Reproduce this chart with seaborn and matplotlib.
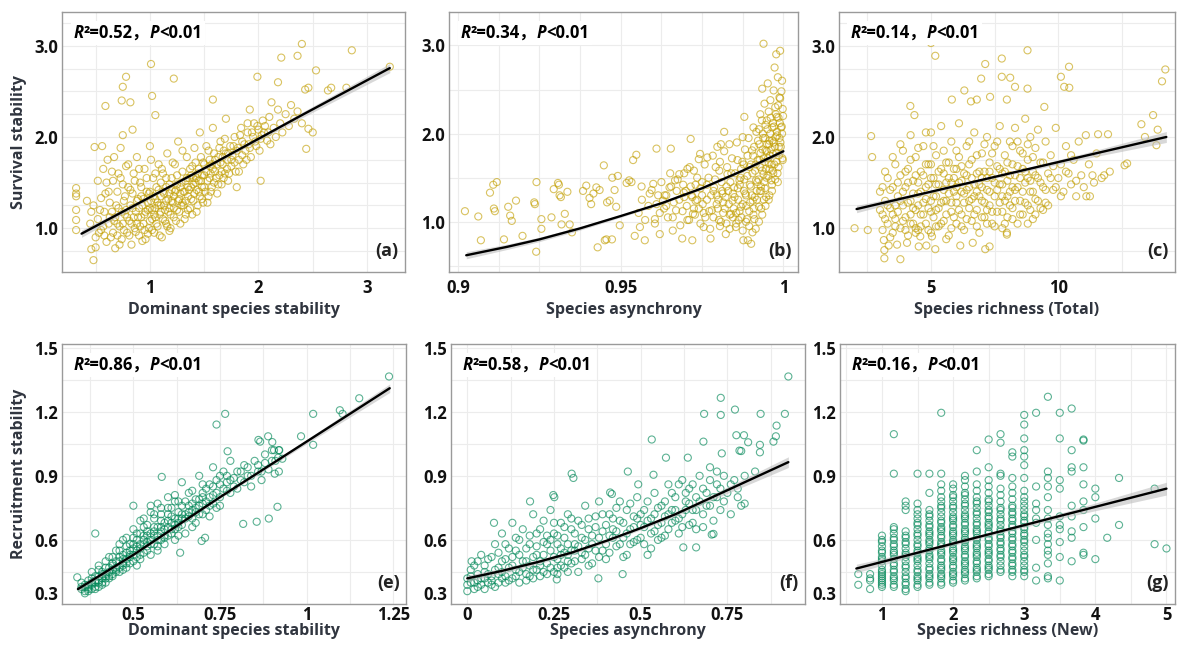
import numpy as np
import pandas as pd
import matplotlib
matplotlib.use("Agg")
import matplotlib.pyplot as plt
import seaborn as sns
from matplotlib.offsetbox import TextArea, HPacker, AnchoredOffsetbox
from matplotlib.ticker import MultipleLocator

sns.set_theme(style="white")
plt.rcParams['font.family'] = ['Open Sans', 'Noto Sans CJK SC', 'DejaVu Sans']
plt.rcParams['font.weight'] = 'bold'

# ---------------- data ----------------

# (a) survival stability vs dominant species stability
pts_a = [
    (3.21, 2.77), (2.86, 2.95), (2.40, 3.02), (2.36, 2.89), (2.21, 2.87), (2.53, 2.73), (1.99, 2.66),
    (2.18, 2.60), (2.43, 2.52), (2.46, 2.54), (2.64, 2.51), (2.67, 2.54), (2.81, 2.54), (1.01, 2.80),
    (1.22, 2.64), (0.78, 2.66), (0.75, 2.55), (0.74, 2.40), (0.82, 2.38), (1.02, 2.45), (0.59, 2.34),
    (1.05, 2.24), (1.58, 2.41), (2.44, 1.87), (2.50, 2.05), (2.46, 2.09), (2.02, 1.52), (1.18, 0.97),
    (0.48, 0.65), (0.50, 0.79), (0.46, 0.77), (0.32, 1.44), (0.32, 1.38), (0.32, 1.35), (0.32, 1.20),
    (0.32, 1.09), (0.32, 0.98), (0.49, 1.89), (0.56, 1.90), (0.75, 2.02), (0.84, 2.08),
    (0.45, 1.05), (0.48, 1.25), (0.52, 1.10), (0.55, 0.98), (0.55, 1.33), (0.58, 1.18), (0.60, 1.50),
    (0.60, 0.85), (0.62, 1.05), (0.63, 1.28), (0.65, 1.62), (0.66, 0.95), (0.68, 1.12), (0.68, 0.78),
    (0.70, 1.40), (0.71, 1.22), (0.72, 1.02), (0.73, 1.55), (0.74, 0.88), (0.76, 1.30), (0.77, 1.15),
    (0.78, 1.68), (0.79, 0.95), (0.80, 1.45), (0.81, 1.08), (0.82, 1.25), (0.83, 0.82), (0.84, 1.38),
    (0.85, 1.60), (0.86, 1.00), (0.87, 1.18), (0.88, 1.78), (0.89, 1.32), (0.90, 0.92), (0.91, 1.50),
    (0.92, 1.12), (0.93, 1.25), (0.94, 1.05), (0.95, 1.65), (0.96, 0.88), (0.97, 1.40), (0.98, 1.20),
    (0.99, 1.00), (1.00, 1.90), (1.01, 1.30), (1.02, 1.10), (1.03, 1.55), (1.04, 0.95), (1.05, 1.22),
    (1.06, 1.45), (1.07, 1.02), (1.08, 1.70), (1.09, 1.15), (1.10, 1.35), (1.11, 0.90), (1.12, 1.60),
    (1.13, 1.25), (1.14, 1.08), (1.15, 1.45), (1.16, 1.82), (1.17, 1.18), (1.18, 1.38), (1.19, 1.00),
    (1.20, 1.55), (1.21, 1.28), (1.22, 1.12), (1.23, 1.70), (1.24, 1.42), (1.25, 1.20), (1.26, 1.95),
    (1.27, 1.32), (1.28, 1.05), (1.29, 1.50), (1.30, 1.62), (1.31, 1.25), (1.32, 1.40), (1.33, 1.15),
    (1.34, 1.78), (1.35, 1.35), (1.36, 1.55), (1.37, 1.22), (1.38, 1.45), (1.39, 1.68), (1.40, 1.30),
    (1.41, 1.88), (1.42, 1.50), (1.43, 1.18), (1.44, 1.60), (1.45, 1.40), (1.46, 2.05), (1.47, 1.52),
    (1.48, 1.32), (1.49, 1.72), (1.50, 1.45), (1.52, 1.62), (1.53, 1.28), (1.54, 1.85), (1.55, 1.55),
    (1.56, 1.40), (1.57, 1.70), (1.58, 2.10), (1.59, 1.50), (1.60, 1.62), (1.62, 1.38), (1.63, 1.78),
    (1.64, 1.58), (1.65, 1.95), (1.66, 1.48), (1.67, 1.70), (1.68, 1.85), (1.69, 1.60), (1.70, 2.20),
    (1.71, 1.75), (1.72, 1.52), (1.74, 1.90), (1.75, 1.68), (1.76, 1.80), (1.78, 2.00), (1.79, 1.62),
    (1.80, 1.45), (1.81, 1.88), (1.82, 1.75), (1.84, 2.10), (1.85, 1.95), (1.86, 1.70), (1.88, 1.85),
    (1.90, 2.05), (1.91, 1.92), (1.92, 2.30), (1.93, 1.78), (1.95, 2.00), (1.96, 2.15), (1.98, 1.90),
    (2.00, 2.08), (2.02, 1.98), (2.04, 2.18), (2.05, 2.05), (2.08, 1.96), (2.10, 2.22), (2.12, 2.38),
    (2.14, 2.10), (2.16, 2.00), (2.18, 2.30), (2.20, 2.15), (2.22, 2.05), (2.25, 2.25), (2.28, 2.12),
    (2.30, 2.35), (2.33, 2.20), (2.36, 2.28), (2.40, 2.15),
    (0.85, 1.12), (0.88, 1.05), (0.92, 1.35), (0.95, 1.15), (0.98, 1.28), (1.00, 1.08), (1.02, 1.20),
    (1.05, 1.32), (1.08, 1.25), (1.10, 1.18), (1.12, 1.40), (1.15, 1.30), (1.18, 1.22), (1.20, 1.42),
    (1.22, 1.35), (1.25, 1.48), (1.28, 1.38), (1.30, 1.28), (1.33, 1.52), (1.35, 1.45), (1.38, 1.58),
    (1.40, 1.48), (1.43, 1.55), (1.45, 1.65), (1.48, 1.58), (1.50, 1.70), (1.55, 1.68), (1.60, 1.75),
    (1.65, 1.72), (1.70, 1.82), (0.75, 1.05), (0.78, 1.20), (0.70, 0.92), (0.65, 1.18), (0.90, 1.22),
    (1.00, 1.40), (1.10, 1.50), (0.95, 0.98), (1.05, 1.12), (1.15, 1.05),
    (0.62, 1.40), (0.64, 0.90), (0.66, 1.52), (0.67, 1.08), (0.69, 1.25), (0.71, 1.60), (0.72, 0.82),
    (0.74, 1.18), (0.75, 1.48), (0.76, 0.98), (0.77, 1.35), (0.79, 1.12), (0.80, 1.70), (0.81, 0.92),
    (0.82, 1.42), (0.83, 1.05), (0.84, 1.22), (0.86, 1.52), (0.87, 0.96), (0.88, 1.30), (0.89, 1.12),
    (0.90, 1.65), (0.91, 1.02), (0.92, 1.45), (0.93, 0.86), (0.94, 1.32), (0.96, 1.18), (0.97, 1.55),
    (0.98, 0.94), (0.99, 1.38), (1.00, 1.22), (1.01, 1.75), (1.02, 0.98), (1.03, 1.35), (1.04, 1.15),
    (1.05, 1.60), (1.06, 1.05), (1.07, 1.28), (1.08, 1.42), (1.09, 0.92), (1.10, 1.25), (1.11, 1.65),
    (1.12, 1.10), (1.13, 1.38), (1.14, 1.20), (1.15, 1.55), (1.16, 1.02), (1.17, 1.32), (1.18, 1.48),
    (1.19, 1.15), (1.20, 1.30), (1.21, 1.72), (1.22, 1.22), (1.23, 1.40), (1.24, 1.08), (1.25, 1.58),
    (1.26, 1.30), (1.27, 1.18), (1.28, 1.45), (1.29, 1.25), (1.30, 1.85), (1.31, 1.40), (1.32, 1.10),
    (1.33, 1.30), (1.34, 1.55), (1.35, 1.20), (1.36, 1.42), (1.37, 1.65), (1.38, 1.32), (1.39, 1.15),
    (1.40, 1.55), (1.41, 1.38), (1.42, 1.72), (1.43, 1.42), (1.44, 1.25), (1.45, 1.52), (1.46, 1.35),
    (1.47, 1.78), (1.48, 1.45), (1.49, 1.28), (1.50, 1.58), (1.51, 1.40), (1.52, 1.90), (1.53, 1.52),
    (1.54, 1.35), (1.55, 1.75), (1.56, 1.60), (1.57, 1.45), (1.58, 1.65), (1.59, 1.82), (1.61, 1.55),
    (1.62, 1.70), (1.63, 1.48), (1.64, 1.88), (1.66, 1.62), (1.67, 1.78), (1.68, 1.55), (1.69, 1.98),
    (1.71, 1.65), (1.72, 1.82), (1.73, 1.60), (1.75, 1.75), (1.77, 1.90), (1.78, 1.72), (1.80, 1.85),
    (1.82, 1.62), (1.83, 2.02), (1.85, 1.80), (1.87, 1.92), (1.89, 1.75), (1.90, 2.15), (1.92, 1.88),
    (1.94, 2.05), (1.97, 1.95), (1.99, 2.12), (2.01, 1.85), (2.03, 2.02), (2.06, 2.12), (2.09, 2.05),
    (2.11, 1.92), (0.52, 1.52), (0.54, 1.20), (0.57, 1.65), (0.58, 0.92), (0.61, 1.75), (0.63, 1.12),
    (0.67, 1.78), (0.70, 1.05), (0.73, 1.88), (0.57, 1.02), (0.53, 0.95), (0.59, 1.38), (0.46, 1.18),
    (0.50, 0.90), (0.42, 1.30),
]
fit_a_x = [0.37, 1.0, 1.6, 2.4, 3.21]
fit_a_y = [0.94, 1.34, 1.72, 2.24, 2.755]
ci_a = [0.04, 0.015, 0.015, 0.03, 0.05]

# (b) survival stability vs species asynchrony
pts_b = [
    (0.9021, 1.12), (0.9062, 1.06), (0.9070, 0.79), (0.9098, 1.33), (0.9108, 1.42), (0.9119, 1.45),
    (0.9110, 1.15), (0.9113, 1.12), (0.9141, 0.80), (0.9154, 1.17), (0.9160, 1.07), (0.9165, 1.01),
    (0.9178, 1.24), (0.9198, 0.84), (0.9234, 1.22), (0.9236, 1.20), (0.9241, 1.45), (0.9240, 0.66),
    (0.9256, 1.03), (0.9256, 0.92), (0.9287, 1.05), (0.9294, 1.37), (0.9307, 1.44), (0.9310, 1.42),
    (0.9312, 1.30), (0.9316, 1.28), (0.9318, 0.97), (0.9328, 1.09), (0.9336, 1.34), (0.9343, 0.97),
    (0.9350, 0.88), (0.9384, 1.35), (0.9394, 1.41), (0.9404, 1.27), (0.9409, 1.20), (0.9416, 1.32),
    (0.9425, 1.39), (0.9429, 0.71), (0.9435, 1.36), (0.9448, 1.64), (0.9451, 0.79), (0.9456, 0.80),
    (0.9458, 1.22), (0.9466, 1.24), (0.9473, 0.80), (0.9474, 1.50), (0.9481, 1.36), (0.9491, 1.52),
    (0.9486, 1.17), (0.9497, 0.96), (0.9518, 1.44), (0.9526, 1.47), (0.9533, 1.45), (0.9538, 1.70),
    (0.9548, 1.76), (0.9543, 0.84), (0.9559, 0.94), (0.9564, 1.40), (0.9574, 0.79), (0.9589, 1.32),
    (0.9600, 1.43), (0.9605, 1.03), (0.9610, 1.83), (0.9610, 1.20), (0.9620, 0.86), (0.9630, 1.24),
    (0.9640, 1.30), (0.9650, 1.39), (0.9654, 1.83), (0.9660, 0.90), (0.9667, 1.47), (0.9670, 1.13),
    (0.9680, 1.54), (0.9689, 0.81), (0.9694, 1.33), (0.9705, 1.60), (0.9715, 1.94), (0.9720, 0.79),
    (0.9722, 1.09), (0.9730, 1.24), (0.9740, 1.71), (0.9744, 1.77), (0.9750, 1.45), (0.9755, 0.94),
    (0.9766, 1.73), (0.9776, 0.81), (0.9780, 1.13), (0.9787, 1.39), (0.9792, 1.62), (0.9797, 1.85),
    (0.9802, 1.02), (0.9808, 1.88), (0.9813, 1.32), (0.9818, 2.02), (0.9823, 0.86), (0.9828, 1.54),
    (0.9834, 1.88), (0.9839, 1.09), (0.9844, 1.24), (0.9849, 1.39), (0.9854, 0.94), (0.9859, 1.70),
    (0.9865, 1.47), (0.9870, 1.17), (0.9875, 1.96), (0.9877, 0.79), (0.9880, 2.19), (0.9883, 1.32),
    (0.9888, 1.03), (0.9891, 0.79), (0.9896, 1.62), (0.9901, 0.75), (0.9904, 1.81), (0.9906, 1.24),
    (0.9908, 2.07), (0.9911, 1.03), (0.9916, 1.47), (0.9922, 1.92), (0.9925, 1.17), (0.9927, 1.70),
    (0.9929, 2.22), (0.9932, 1.35), (0.9935, 2.51), (0.9937, 2.00), (0.9939, 3.02), (0.9939, 1.54),
    (0.9942, 2.34), (0.9945, 1.81), (0.9947, 1.28), (0.9949, 2.15), (0.9952, 2.57), (0.9955, 1.66),
    (0.9957, 1.92), (0.9960, 2.38), (0.9963, 1.47), (0.9966, 2.07), (0.9968, 1.77), (0.9970, 2.49),
    (0.9973, 2.75), (0.9976, 1.96), (0.9978, 2.90), (0.9980, 2.19), (0.9983, 2.64), (0.9986, 1.85),
    (0.9988, 2.41), (0.9990, 2.94), (0.9993, 2.07), (0.9996, 2.60), (0.9998, 1.70),
    (0.9800, 1.25), (0.9810, 1.45), (0.9820, 1.15), (0.9830, 1.35), (0.9840, 1.55), (0.9850, 1.28),
    (0.9855, 1.10), (0.9860, 1.38), (0.9870, 1.60), (0.9875, 1.20), (0.9880, 1.48), (0.9885, 1.30),
    (0.9890, 1.75), (0.9895, 1.12), (0.9900, 1.40), (0.9905, 1.55), (0.9910, 1.85), (0.9912, 1.28),
    (0.9915, 1.65), (0.9920, 1.45), (0.9925, 2.05), (0.9928, 1.35), (0.9930, 1.78), (0.9935, 1.58),
    (0.9938, 1.95), (0.9940, 1.25), (0.9942, 1.68), (0.9945, 2.10), (0.9948, 1.50), (0.9950, 1.88),
    (0.9953, 1.72), (0.9955, 2.25), (0.9958, 1.60), (0.9960, 2.00), (0.9962, 1.82), (0.9965, 1.42),
    (0.9968, 2.12), (0.9970, 1.90), (0.9972, 1.65), (0.9975, 2.30), (0.9978, 1.78), (0.9980, 2.02),
    (0.9982, 1.55), (0.9985, 2.18), (0.9988, 1.95), (0.9990, 2.40), (0.9992, 1.85), (0.9995, 2.08),
    (0.9997, 1.72), (0.9999, 2.20), (0.9785, 1.05), (0.9795, 1.30), (0.9805, 1.68), (0.9815, 1.22),
    (0.9825, 1.40), (0.9835, 1.08), (0.9845, 1.32), (0.9862, 1.02), (0.9868, 1.50), (0.9878, 1.65),
    (0.9898, 1.22), (0.9908, 1.08), (0.9918, 1.35), (0.9932, 1.15), (0.9943, 1.38), (0.9957, 1.30),
    (0.9967, 1.58), (0.9983, 1.45),
    (0.9620, 1.10), (0.9640, 1.18), (0.9660, 1.05), (0.9680, 1.25), (0.9690, 1.12), (0.9700, 1.35),
    (0.9710, 1.02), (0.9720, 1.28), (0.9730, 1.42), (0.9740, 1.15), (0.9750, 1.30), (0.9760, 1.05),
    (0.9770, 1.50), (0.9635, 1.30), (0.9655, 1.40), (0.9675, 1.48), (0.9695, 1.55), (0.9725, 1.58),
    (0.9555, 1.10), (0.9565, 1.25), (0.9575, 1.02), (0.9585, 1.18), (0.9595, 1.36), (0.9605, 0.98),
    (0.9615, 1.30), (0.9625, 1.45), (0.9633, 1.15), (0.9645, 1.05), (0.9652, 1.55), (0.9663, 1.22),
    (0.9672, 1.35), (0.9683, 0.96), (0.9692, 1.42), (0.9703, 1.18), (0.9712, 1.62), (0.9718, 1.30),
    (0.9728, 1.08), (0.9735, 1.50), (0.9745, 1.38), (0.9752, 1.20), (0.9758, 1.65), (0.9765, 1.42),
    (0.9772, 1.12), (0.9778, 1.30), (0.9783, 1.75), (0.9790, 1.48), (0.9798, 1.15), (0.9803, 1.58),
    (0.9808, 1.00), (0.9812, 1.35), (0.9818, 1.80), (0.9822, 1.28), (0.9827, 1.62), (0.9832, 1.20),
    (0.9837, 1.45), (0.9842, 1.72), (0.9847, 1.15), (0.9852, 1.55), (0.9857, 1.90), (0.9861, 1.25),
    (0.9866, 1.42), (0.9871, 1.05), (0.9874, 1.68), (0.9879, 1.35), (0.9882, 1.82), (0.9886, 1.18),
    (0.9889, 1.52), (0.9893, 1.95), (0.9897, 1.42), (0.9900, 1.65), (0.9903, 1.30), (0.9907, 1.75),
    (0.9909, 1.15), (0.9913, 1.58), (0.9917, 2.02), (0.9919, 1.25), (0.9921, 1.70), (0.9924, 1.48),
    (0.9926, 1.88), (0.9929, 1.62), (0.9931, 1.40), (0.9934, 2.15), (0.9936, 1.82), (0.9939, 1.72),
    (0.9941, 1.45), (0.9944, 1.95), (0.9946, 1.60), (0.9949, 1.80), (0.9951, 2.05), (0.9954, 1.52),
    (0.9956, 1.88), (0.9959, 1.75), (0.9961, 2.18), (0.9964, 1.65), (0.9966, 1.92), (0.9969, 1.55),
    (0.9971, 2.08), (0.9974, 1.85), (0.9977, 2.22), (0.9979, 1.68), (0.9981, 1.98), (0.9984, 2.32),
    (0.9986, 1.75), (0.9989, 2.12), (0.9991, 1.90), (0.9994, 2.48), (0.9996, 2.00), (0.9998, 2.28),
    (0.9985, 1.62), (0.9975, 1.48), (0.9965, 1.35), (0.9955, 1.25), (0.9945, 1.18), (0.9935, 1.08),
    (0.9925, 1.00), (0.9915, 0.92), (0.9905, 0.88), (0.9895, 0.95), (0.9885, 1.00), (0.9875, 0.90),
    (0.9865, 1.12), (0.9855, 0.98), (0.9845, 1.05), (0.9835, 0.92), (0.9825, 0.98), (0.9815, 1.10),
    (0.9805, 0.95), (0.9795, 1.20), (0.9785, 1.35), (0.9775, 0.92), (0.9765, 1.25), (0.9755, 1.10),
    (0.9745, 0.98), (0.9735, 1.25), (0.9725, 1.15), (0.9715, 1.40), (0.9705, 1.02), (0.9695, 1.28),
]
fit_b_x = [0.9025, 0.915, 0.925, 0.9375, 0.95, 0.9625, 0.975, 0.9875, 1.0]
fit_b_y = [0.62, 0.715, 0.80, 0.925, 1.065, 1.21, 1.38, 1.58, 1.80]
ci_b = [0.04, 0.03, 0.025, 0.02, 0.015, 0.012, 0.012, 0.015, 0.025]

# (c) survival stability vs species richness (total)
pts_c = [
    (2.00, 1.00), (2.52, 0.98), (2.65, 2.01), (2.69, 1.78), (3.15, 0.87), (3.17, 0.67), (3.17, 0.76),
    (4.19, 2.34), (4.35, 2.24), (5.00, 3.03), (5.17, 2.89), (5.82, 2.41), (6.31, 2.51), (7.13, 2.80),
    (6.97, 2.64), (6.57, 2.39), (6.80, 2.41), (7.32, 2.44), (7.78, 2.86), (7.78, 2.66), (8.11, 2.65),
    (7.98, 2.41), (8.30, 2.55), (8.79, 2.95), (8.79, 2.53), (9.45, 2.33), (10.1, 2.66), (10.42, 2.77),
    (10.23, 2.55), (10.43, 2.54), (14.2, 2.74), (14.07, 2.61), (13.72, 2.24), (13.26, 2.14),
    (13.9, 2.08), (13.85, 1.91), (13.4, 2.00), (12.6, 1.69), (12.7, 1.71), (12.02, 1.62), (11.95, 2.03),
    (11.56, 2.03), (11.08, 2.02), (11.24, 1.35), (11.10, 1.35), (11.7, 1.55), (11.8, 1.58),
    (11.34, 1.58), (3.80, 0.66), (3.34, 0.81), (3.67, 0.82), (4.06, 0.84), (4.52, 0.80), (4.82, 0.81),
    (5.17, 0.77), (6.15, 0.81), (6.64, 0.84), (7.13, 0.77), (7.30, 0.80), (7.98, 0.95), (7.98, 0.93),
    (5.60, 0.88), (5.04, 0.91), (4.58, 0.91),
    (3.0, 1.40), (3.1, 1.15), (3.2, 1.30), (3.3, 1.05), (3.3, 1.55), (3.4, 1.22), (3.5, 0.95),
    (3.5, 1.45), (3.6, 1.70), (3.6, 1.10), (3.7, 1.35), (3.8, 1.00), (3.8, 1.58), (3.9, 1.25),
    (3.9, 1.85), (4.0, 1.12), (4.0, 1.45), (4.1, 0.92), (4.1, 1.65), (4.2, 1.30), (4.2, 2.02),
    (4.3, 1.05), (4.3, 1.52), (4.4, 1.20), (4.4, 1.78), (4.5, 1.38), (4.5, 0.98), (4.6, 1.62),
    (4.6, 1.15), (4.7, 1.90), (4.7, 1.28), (4.8, 1.45), (4.8, 1.05), (4.9, 1.70), (4.9, 1.22),
    (5.0, 1.55), (5.0, 0.95), (5.0, 2.05), (5.1, 1.35), (5.1, 1.12), (5.2, 1.80), (5.2, 1.48),
    (5.3, 1.02), (5.3, 1.62), (5.4, 1.28), (5.4, 2.12), (5.5, 1.42), (5.5, 1.08), (5.6, 1.72),
    (5.6, 1.30), (5.7, 0.92), (5.7, 1.55), (5.8, 1.95), (5.8, 1.18), (5.9, 1.40), (5.9, 1.65),
    (6.0, 1.05), (6.0, 1.28), (6.0, 1.85), (6.1, 1.50), (6.1, 2.15), (6.2, 1.15), (6.2, 1.68),
    (6.3, 1.38), (6.3, 0.98), (6.4, 1.58), (6.4, 1.90), (6.5, 1.22), (6.5, 1.45), (6.6, 1.75),
    (6.6, 1.08), (6.7, 1.35), (6.7, 2.05), (6.8, 1.60), (6.8, 1.20), (6.9, 1.48), (6.9, 0.95),
    (7.0, 1.82), (7.0, 1.30), (7.1, 1.62), (7.1, 1.12), (7.2, 2.00), (7.2, 1.42), (7.3, 1.25),
    (7.3, 1.72), (7.4, 1.05), (7.4, 1.55), (7.5, 1.90), (7.5, 1.35), (7.6, 1.68), (7.6, 1.18),
    (7.7, 1.48), (7.7, 2.12), (7.8, 1.00), (7.8, 1.60), (7.9, 1.80), (7.9, 1.30), (8.0, 1.52),
    (8.0, 1.12), (8.1, 1.95), (8.1, 1.40), (8.2, 1.70), (8.2, 1.22), (8.3, 1.58), (8.3, 2.10),
    (8.4, 1.05), (8.4, 1.45), (8.5, 1.85), (8.5, 1.30), (8.6, 1.65), (8.6, 1.15), (8.7, 2.20),
    (8.7, 1.50), (8.8, 1.75), (8.8, 1.25), (8.9, 2.00), (8.9, 1.40), (9.0, 1.62), (9.0, 1.10),
    (9.1, 1.88), (9.1, 1.32), (9.2, 1.55), (9.2, 2.08), (9.3, 1.22), (9.3, 1.72), (9.4, 1.45),
    (9.5, 1.95), (9.5, 1.28), (9.6, 1.60), (9.7, 1.80), (9.8, 1.42), (9.9, 2.10), (10.0, 1.55),
    (10.1, 1.70), (10.2, 1.40), (10.3, 1.90), (10.4, 1.60), (10.5, 1.48), (10.6, 1.75), (10.7, 1.35),
    (10.8, 1.95), (10.9, 1.58), (11.0, 1.45), (11.2, 1.70), (11.4, 1.50), (11.5, 1.82),
    (4.5, 1.50), (5.0, 1.30), (5.5, 1.60), (6.0, 1.45), (6.5, 1.30), (7.0, 1.55), (4.2, 1.15),
    (5.2, 1.20), (6.2, 1.40), (7.2, 1.20), (8.2, 1.45), (3.6, 1.25), (4.8, 1.70), (5.8, 1.50),
    (6.8, 1.40), (7.8, 1.35), (8.8, 1.55), (9.4, 1.20), (3.2, 1.10), (4.4, 1.00),
    (3.0, 1.20), (3.1, 1.45), (3.1, 0.98), (3.2, 1.62), (3.3, 1.25), (3.4, 1.42), (3.4, 0.90),
    (3.5, 1.15), (3.5, 1.78), (3.6, 1.02), (3.7, 1.50), (3.7, 1.18), (3.8, 1.30), (3.8, 1.92),
    (3.9, 1.08), (3.9, 1.40), (4.0, 1.62), (4.0, 0.98), (4.1, 1.28), (4.1, 1.50), (4.2, 1.75),
    (4.2, 1.05), (4.3, 1.38), (4.3, 1.22), (4.4, 1.58), (4.4, 0.95), (4.5, 1.25), (4.5, 1.88),
    (4.6, 1.40), (4.6, 1.02), (4.7, 1.58), (4.7, 1.15), (4.8, 1.32), (4.8, 2.05), (4.9, 1.48),
    (4.9, 0.98), (5.0, 1.70), (5.0, 1.18), (5.1, 1.55), (5.1, 1.90), (5.2, 1.02), (5.2, 1.35),
    (5.3, 1.48), (5.3, 1.22), (5.4, 1.65), (5.4, 1.05), (5.5, 1.30), (5.5, 1.85), (5.6, 1.15),
    (5.6, 1.50), (5.7, 1.38), (5.7, 1.72), (5.8, 1.00), (5.8, 1.28), (5.9, 1.55), (5.9, 1.12),
    (6.0, 1.65), (6.0, 1.35), (6.1, 1.20), (6.1, 1.78), (6.2, 1.52), (6.2, 1.02), (6.3, 1.60),
    (6.3, 1.28), (6.4, 1.10), (6.4, 1.42), (6.5, 1.70), (6.5, 1.95), (6.6, 1.32), (6.6, 1.55),
    (6.7, 1.15), (6.7, 1.48), (6.8, 1.80), (6.8, 1.02), (6.9, 1.35), (6.9, 1.62), (7.0, 1.12),
    (7.0, 1.45), (7.1, 1.28), (7.1, 1.92), (7.2, 1.55), (7.2, 1.05), (7.3, 1.40), (7.3, 1.62),
    (7.4, 1.18), (7.4, 1.82), (7.5, 1.50), (7.5, 1.02), (7.6, 1.42), (7.6, 1.95), (7.7, 1.28),
    (7.7, 1.65), (7.8, 1.48), (7.8, 1.18), (7.9, 1.62), (7.9, 1.05), (8.0, 1.72), (8.0, 1.35),
    (8.1, 1.25), (8.1, 1.58), (8.2, 1.90), (8.2, 1.10), (8.3, 1.42), (8.3, 1.30), (8.4, 1.68),
    (8.4, 1.95), (8.5, 1.15), (8.5, 1.55), (8.6, 1.40), (8.6, 1.82), (8.7, 1.28), (8.7, 1.62),
    (8.8, 1.05), (8.8, 1.92), (8.9, 1.52), (8.9, 1.20), (9.0, 1.78), (9.0, 1.40), (9.1, 1.58),
    (9.1, 1.15), (9.2, 1.30), (9.3, 1.50), (9.4, 1.72), (9.5, 1.42), (9.6, 1.25), (9.7, 1.55),
    (9.8, 1.68), (9.9, 1.45), (10.1, 1.35), (10.3, 1.62), (10.5, 1.80), (10.7, 1.52),
]
fit_c_x = [2.08, 5.0, 8.0, 11.0, 14.24]
fit_c_y = [1.21, 1.40, 1.595, 1.79, 2.00]
ci_c = [0.04, 0.015, 0.015, 0.03, 0.06]

# (e) recruitment stability vs dominant species stability
pts_e = [
    (1.238, 1.365), (1.152, 1.263), (1.096, 1.207), (1.104, 1.19), (1.019, 1.19), (1.019, 1.045),
    (0.984, 1.085), (0.889, 1.085), (0.901, 1.058), (0.861, 1.068), (0.866, 1.06), (0.906, 1.02),
    (0.921, 1.02), (0.918, 0.985), (0.908, 0.91), (0.920, 0.92), (0.916, 0.755), (0.891, 0.70),
    (0.856, 0.685), (0.817, 0.675), (0.765, 1.19), (0.740, 1.14), (0.772, 1.015), (0.582, 0.895),
    (0.500, 0.76), (0.390, 0.63), (0.338, 0.425), (0.697, 0.595), (0.707, 0.61), (0.635, 0.54),
    (0.35, 0.37), (0.35, 0.40), (0.36, 0.36), (0.36, 0.39), (0.37, 0.41), (0.37, 0.38), (0.38, 0.37),
    (0.38, 0.42), (0.38, 0.45), (0.39, 0.40), (0.39, 0.43), (0.40, 0.41), (0.40, 0.46), (0.40, 0.38),
    (0.41, 0.44), (0.41, 0.42), (0.42, 0.47), (0.42, 0.43), (0.42, 0.40), (0.43, 0.45), (0.43, 0.52),
    (0.44, 0.44), (0.44, 0.49), (0.45, 0.47), (0.45, 0.55), (0.45, 0.45), (0.46, 0.50), (0.46, 0.58),
    (0.47, 0.48), (0.47, 0.53), (0.47, 0.46), (0.48, 0.51), (0.48, 0.61), (0.49, 0.55), (0.49, 0.49),
    (0.50, 0.58), (0.50, 0.53), (0.50, 0.65), (0.51, 0.52), (0.51, 0.60), (0.52, 0.56), (0.52, 0.69),
    (0.52, 0.51), (0.53, 0.58), (0.53, 0.62), (0.54, 0.55), (0.54, 0.64), (0.55, 0.60), (0.55, 0.73),
    (0.55, 0.53), (0.56, 0.58), (0.56, 0.66), (0.57, 0.62), (0.57, 0.77), (0.58, 0.60), (0.58, 0.69),
    (0.59, 0.65), (0.59, 0.58), (0.60, 0.72), (0.60, 0.80), (0.60, 0.62), (0.61, 0.68), (0.61, 0.75),
    (0.62, 0.65), (0.62, 0.60), (0.63, 0.70), (0.63, 0.78), (0.64, 0.67), (0.64, 0.87), (0.65, 0.72),
    (0.65, 0.63), (0.66, 0.76), (0.66, 0.82), (0.67, 0.70), (0.67, 0.74), (0.68, 0.79), (0.68, 0.68),
    (0.69, 0.90), (0.69, 0.76), (0.70, 0.82), (0.70, 0.72), (0.71, 0.78), (0.72, 0.86), (0.72, 0.76),
    (0.73, 0.94), (0.73, 0.81), (0.74, 0.75), (0.75, 0.86), (0.75, 0.80), (0.76, 0.92), (0.77, 0.83),
    (0.78, 0.88), (0.78, 0.97), (0.79, 0.85), (0.80, 0.92), (0.81, 0.88), (0.82, 0.95), (0.83, 0.90),
    (0.84, 0.85), (0.85, 0.97), (0.86, 0.92), (0.87, 0.88), (0.88, 1.00), (0.89, 0.93), (0.90, 1.02),
    (0.91, 0.97), (0.92, 1.02), (0.93, 0.98), (0.36, 0.35), (0.37, 0.37), (0.39, 0.38), (0.41, 0.40),
    (0.43, 0.42), (0.44, 0.46), (0.46, 0.47), (0.48, 0.49), (0.49, 0.52), (0.51, 0.55), (0.53, 0.54),
    (0.54, 0.59), (0.56, 0.62), (0.57, 0.57), (0.58, 0.64), (0.59, 0.62), (0.61, 0.63), (0.62, 0.67),
    (0.63, 0.66), (0.64, 0.70), (0.66, 0.71), (0.68, 0.73), (0.70, 0.77), (0.71, 0.84), (0.74, 0.88),
    (0.77, 0.87),
    (0.35, 0.38), (0.36, 0.38), (0.37, 0.39), (0.37, 0.36), (0.38, 0.40), (0.38, 0.39), (0.39, 0.41),
    (0.39, 0.37), (0.40, 0.43), (0.40, 0.40), (0.41, 0.45), (0.41, 0.39), (0.42, 0.44), (0.42, 0.42),
    (0.43, 0.47), (0.43, 0.43), (0.44, 0.48), (0.44, 0.43), (0.45, 0.50), (0.45, 0.46), (0.46, 0.52),
    (0.46, 0.45), (0.47, 0.51), (0.47, 0.49), (0.48, 0.54), (0.48, 0.47), (0.49, 0.53), (0.49, 0.58),
    (0.50, 0.56), (0.50, 0.50), (0.51, 0.57), (0.51, 0.63), (0.52, 0.58), (0.52, 0.53), (0.53, 0.60),
    (0.53, 0.66), (0.54, 0.57), (0.54, 0.62), (0.55, 0.63), (0.55, 0.58), (0.56, 0.64), (0.56, 0.70),
    (0.57, 0.60), (0.57, 0.66), (0.58, 0.66), (0.58, 0.72), (0.59, 0.61), (0.59, 0.68), (0.60, 0.66),
    (0.60, 0.69), (0.61, 0.65), (0.61, 0.71), (0.62, 0.70), (0.62, 0.78), (0.63, 0.68), (0.63, 0.73),
    (0.64, 0.72), (0.64, 0.76), (0.65, 0.70), (0.65, 0.78), (0.66, 0.73), (0.67, 0.77), (0.67, 0.83),
    (0.68, 0.75), (0.69, 0.79), (0.69, 0.72), (0.70, 0.80), (0.70, 0.86), (0.71, 0.74), (0.72, 0.80),
    (0.73, 0.77), (0.73, 0.85), (0.74, 0.82), (0.75, 0.90), (0.75, 0.76), (0.76, 0.84), (0.77, 0.90),
    (0.78, 0.82), (0.79, 0.89), (0.80, 0.84), (0.81, 0.92), (0.82, 0.87), (0.83, 0.94), (0.84, 0.90),
    (0.86, 0.95), (0.87, 0.92), (0.88, 0.96), (0.90, 0.97), (0.44, 0.52), (0.46, 0.55), (0.48, 0.57),
    (0.50, 0.61), (0.52, 0.63), (0.54, 0.67), (0.56, 0.72), (0.58, 0.75), (0.47, 0.60), (0.42, 0.50),
    (0.40, 0.48), (0.53, 0.70), (0.55, 0.76), (0.60, 0.75), (0.62, 0.81), (0.51, 0.48), (0.57, 0.55),
    (0.63, 0.62), (0.67, 0.66), (0.72, 0.71),
]
fit_e_x = [0.34, 0.5, 0.75, 1.0, 1.24]
fit_e_y = [0.37, 0.53, 0.80, 1.06, 1.31]
ci_e = [0.012, 0.006, 0.006, 0.01, 0.02]

# (f) recruitment stability vs species asynchrony
pts_f = [
    (0.926, 1.365), (0.916, 1.19), (0.892, 1.135), (0.890, 1.085), (0.883, 1.06), (0.846, 1.19),
    (0.844, 1.045), (0.844, 1.01), (0.810, 1.057), (0.798, 1.09), (0.790, 1.016), (0.785, 1.018),
    (0.776, 1.09), (0.772, 1.21), (0.731, 1.265), (0.731, 1.185), (0.734, 1.005), (0.683, 1.19),
    (0.681, 1.06), (0.636, 0.985), (0.532, 1.07), (0.573, 0.985), (0.537, 0.905), (0.493, 0.86),
    (0.463, 0.92), (0.412, 0.822), (0.417, 0.815), (0.301, 0.91), (0.306, 0.89), (0.248, 0.81),
    (0.251, 0.80), (0.181, 0.78), (0.077, 0.68), (0.0125, 0.50), (0.258, 0.415), (0.448, 0.44),
    (0.378, 0.42), (0.623, 0.565), (0.660, 0.565), (0.705, 0.625), (0.790, 0.76), (0.710, 0.628),
    (0.00, 0.39), (0.01, 0.43), (0.02, 0.37), (0.02, 0.48), (0.03, 0.41), (0.04, 0.53), (0.04, 0.39),
    (0.05, 0.45), (0.06, 0.40), (0.06, 0.51), (0.07, 0.43), (0.08, 0.58), (0.08, 0.38), (0.09, 0.47),
    (0.10, 0.63), (0.10, 0.42), (0.11, 0.51), (0.12, 0.56), (0.12, 0.41), (0.13, 0.68), (0.13, 0.48),
    (0.14, 0.61), (0.15, 0.45), (0.15, 0.53), (0.16, 0.65), (0.17, 0.41), (0.17, 0.50), (0.18, 0.58),
    (0.19, 0.72), (0.19, 0.46), (0.20, 0.53), (0.20, 0.63), (0.21, 0.43), (0.22, 0.59), (0.22, 0.69),
    (0.23, 0.49), (0.24, 0.55), (0.24, 0.74), (0.25, 0.45), (0.25, 0.63), (0.26, 0.51), (0.26, 0.58),
    (0.27, 0.68), (0.28, 0.47), (0.28, 0.61), (0.29, 0.53), (0.29, 0.72), (0.30, 0.65), (0.30, 0.49),
    (0.31, 0.58), (0.32, 0.69), (0.32, 0.45), (0.33, 0.61), (0.34, 0.76), (0.34, 0.53), (0.35, 0.65),
    (0.36, 0.58), (0.36, 0.49), (0.37, 0.71), (0.38, 0.61), (0.38, 0.78), (0.39, 0.55), (0.40, 0.67),
    (0.40, 0.51), (0.41, 0.72), (0.42, 0.61), (0.42, 0.65), (0.43, 0.57), (0.44, 0.78), (0.44, 0.69),
    (0.45, 0.61), (0.46, 0.53), (0.46, 0.74), (0.47, 0.65), (0.48, 0.71), (0.48, 0.59), (0.49, 0.80),
    (0.50, 0.67), (0.50, 0.61), (0.51, 0.74), (0.52, 0.69), (0.52, 0.53), (0.53, 0.63), (0.54, 0.82),
    (0.54, 0.72), (0.55, 0.67), (0.56, 0.61), (0.56, 0.76), (0.57, 0.71), (0.58, 0.86), (0.58, 0.65),
    (0.59, 0.74), (0.60, 0.69), (0.60, 0.80), (0.61, 0.63), (0.62, 0.88), (0.62, 0.72), (0.63, 0.78),
    (0.64, 0.67), (0.64, 0.84), (0.65, 0.74), (0.66, 0.80), (0.66, 0.65), (0.67, 0.90), (0.68, 0.72),
    (0.69, 0.82), (0.70, 0.76), (0.70, 0.94), (0.71, 0.69), (0.72, 0.86), (0.72, 0.80), (0.73, 0.74),
    (0.74, 0.90), (0.75, 0.82), (0.76, 0.72), (0.77, 0.88), (0.78, 0.84), (0.80, 0.77), (0.80, 0.90),
    (0.83, 0.92), (0.01, 0.40), (0.03, 0.38), (0.05, 0.42), (0.07, 0.39), (0.09, 0.44), (0.11, 0.40),
    (0.14, 0.43), (0.16, 0.47), (0.18, 0.43), (0.21, 0.48), (0.23, 0.44), (0.26, 0.47), (0.27, 0.53),
    (0.29, 0.50), (0.31, 0.55), (0.33, 0.51), (0.35, 0.56),
    (0.00, 0.42), (0.00, 0.36), (0.01, 0.46), (0.02, 0.40), (0.03, 0.44), (0.03, 0.50), (0.04, 0.42),
    (0.05, 0.37), (0.05, 0.48), (0.06, 0.44), (0.07, 0.52), (0.07, 0.41), (0.08, 0.46), (0.09, 0.40),
    (0.09, 0.54), (0.10, 0.45), (0.10, 0.50), (0.11, 0.43), (0.11, 0.58), (0.12, 0.47), (0.13, 0.42),
    (0.13, 0.52), (0.14, 0.46), (0.14, 0.55), (0.15, 0.40), (0.15, 0.60), (0.16, 0.50), (0.17, 0.44),
    (0.17, 0.56), (0.18, 0.48), (0.18, 0.62), (0.19, 0.42), (0.19, 0.52), (0.20, 0.46), (0.20, 0.57),
    (0.21, 0.50), (0.21, 0.65), (0.22, 0.45), (0.22, 0.53), (0.23, 0.58), (0.23, 0.62), (0.24, 0.47),
    (0.24, 0.60), (0.25, 0.52), (0.25, 0.68), (0.26, 0.44), (0.26, 0.62), (0.27, 0.56), (0.27, 0.48),
    (0.28, 0.54), (0.28, 0.66), (0.29, 0.58), (0.29, 0.45), (0.30, 0.55), (0.30, 0.70), (0.31, 0.50),
    (0.31, 0.63), (0.32, 0.57), (0.33, 0.54), (0.33, 0.67), (0.34, 0.60), (0.35, 0.48), (0.35, 0.70),
    (0.36, 0.62), (0.37, 0.55), (0.37, 0.66), (0.38, 0.52), (0.39, 0.64), (0.39, 0.72), (0.40, 0.58),
    (0.41, 0.62), (0.41, 0.54), (0.42, 0.70), (0.43, 0.64), (0.43, 0.75), (0.44, 0.58), (0.45, 0.68),
    (0.45, 0.52), (0.46, 0.63), (0.47, 0.58), (0.47, 0.77), (0.48, 0.66), (0.49, 0.60), (0.49, 0.70),
    (0.50, 0.72), (0.51, 0.58), (0.51, 0.66), (0.52, 0.78), (0.53, 0.70), (0.53, 0.56), (0.54, 0.64),
    (0.55, 0.75), (0.55, 0.60), (0.56, 0.68), (0.57, 0.78), (0.57, 0.62), (0.58, 0.72), (0.59, 0.68),
    (0.59, 0.82), (0.60, 0.74), (0.61, 0.70), (0.61, 0.86), (0.62, 0.66), (0.63, 0.74), (0.63, 0.82),
    (0.64, 0.77), (0.65, 0.68), (0.65, 0.86), (0.66, 0.74), (0.67, 0.78), (0.68, 0.84), (0.68, 0.66),
    (0.69, 0.76), (0.70, 0.88), (0.71, 0.80), (0.72, 0.92), (0.73, 0.84), (0.74, 0.78), (0.76, 0.86),
    (0.78, 0.80),
]
fit_f_x = [0.0, 0.1, 0.2, 0.3, 0.4, 0.5, 0.6, 0.7, 0.8, 0.926]
fit_f_y = [0.42, 0.455, 0.495, 0.54, 0.595, 0.655, 0.72, 0.795, 0.87, 0.964]
ci_f = [0.015, 0.012, 0.01, 0.008, 0.008, 0.008, 0.01, 0.012, 0.018, 0.025]

# (g) recruitment stability vs species richness (new): richness is in steps of 1/6
g_cols = [0.667, 0.833, 1.0, 1.167, 1.333, 1.5, 1.667, 1.833, 2.0, 2.167, 2.333, 2.5, 2.667,
          2.833, 3.0, 3.167, 3.333, 3.5, 3.667, 3.833, 4.0, 4.167, 4.333, 4.833, 5.0]
g_vals = [
    [0.39, 0.44],
    [0.37, 0.41, 0.42, 0.44],
    [0.38, 0.39, 0.40, 0.41, 0.42, 0.43, 0.44, 0.45, 0.46, 0.48, 0.50, 0.51, 0.52, 0.54, 0.55, 0.57,
     0.59, 0.60, 0.62],
    [0.38, 0.39, 0.41, 0.42, 0.43, 0.45, 0.46, 0.48, 0.49, 0.51, 0.53, 0.54, 0.55, 0.57, 0.58, 0.60,
     0.61, 0.63, 0.65, 0.66, 0.91, 1.095],
    [0.36, 0.37, 0.39, 0.40, 0.42, 0.43, 0.45, 0.47, 0.48, 0.50, 0.52, 0.53, 0.54, 0.56, 0.58, 0.59,
     0.61, 0.62, 0.64, 0.74, 0.76, 0.78],
    [0.38, 0.39, 0.41, 0.42, 0.43, 0.45, 0.46, 0.48, 0.50, 0.51, 0.52, 0.54, 0.55, 0.57, 0.58, 0.60,
     0.62, 0.63, 0.65, 0.67, 0.68, 0.70, 0.72, 0.74, 0.77, 0.91],
    [0.39, 0.40, 0.42, 0.43, 0.44, 0.46, 0.47, 0.49, 0.51, 0.52, 0.53, 0.55, 0.56, 0.58, 0.59, 0.60,
     0.62, 0.63, 0.64, 0.66, 0.67, 0.69, 0.71, 0.72, 0.74, 0.82, 0.91],
    [0.39, 0.40, 0.42, 0.43, 0.44, 0.46, 0.47, 0.48, 0.50, 0.51, 0.53, 0.54, 0.55, 0.57, 0.58, 0.59,
     0.61, 0.62, 0.64, 0.65, 0.66, 0.68, 0.69, 0.71, 0.73, 0.75, 0.76, 0.78, 0.80, 0.83, 0.86, 0.91,
     1.195],
    [0.40, 0.41, 0.43, 0.44, 0.45, 0.47, 0.48, 0.50, 0.51, 0.52, 0.54, 0.55, 0.56, 0.58, 0.59, 0.60,
     0.62, 0.63, 0.64, 0.66, 0.67, 0.69, 0.70, 0.71, 0.73, 0.75, 0.76, 0.78, 0.80, 0.81, 0.84, 0.86],
    [0.41, 0.42, 0.44, 0.45, 0.46, 0.48, 0.49, 0.50, 0.52, 0.53, 0.55, 0.56, 0.57, 0.59, 0.60, 0.61,
     0.63, 0.64, 0.65, 0.67, 0.68, 0.70, 0.71, 0.72, 0.74, 0.76, 0.77, 0.79, 0.81, 0.82, 0.85, 0.88,
     0.90],
    [0.42, 0.43, 0.45, 0.46, 0.47, 0.49, 0.50, 0.52, 0.53, 0.54, 0.56, 0.57, 0.58, 0.60, 0.61, 0.63,
     0.64, 0.65, 0.67, 0.68, 0.70, 0.72, 0.73, 0.75, 0.77, 0.78, 0.80, 0.83, 0.86, 0.92, 1.02],
    [0.43, 0.44, 0.46, 0.47, 0.48, 0.50, 0.51, 0.53, 0.54, 0.55, 0.57, 0.58, 0.60, 0.61, 0.63, 0.64,
     0.66, 0.67, 0.68, 0.70, 0.71, 0.73, 0.74, 0.76, 0.78, 0.79, 0.82, 0.85, 0.88, 0.94, 1.07],
    [0.45, 0.46, 0.48, 0.50, 0.52, 0.53, 0.55, 0.56, 0.58, 0.59, 0.61, 0.62, 0.64, 0.65, 0.67, 0.69,
     0.70, 0.72, 0.74, 0.75, 0.78, 0.81, 0.84, 0.90, 0.91, 1.055, 1.095],
    [0.43, 0.45, 0.46, 0.48, 0.49, 0.51, 0.52, 0.54, 0.55, 0.57, 0.58, 0.60, 0.61, 0.63, 0.64, 0.66,
     0.67, 0.69, 0.70, 0.72, 0.73, 0.75, 0.76, 0.79, 0.82, 0.85, 0.89, 0.99, 1.01],
    [0.43, 0.45, 0.46, 0.48, 0.50, 0.52, 0.53, 0.55, 0.57, 0.59, 0.60, 0.62, 0.63, 0.65, 0.66, 0.68,
     0.69, 0.71, 0.72, 0.74, 0.76, 0.78, 0.80, 0.83, 0.89, 0.95, 0.99, 1.02, 1.075, 1.14, 1.185],
    [0.41, 0.47, 0.60, 0.68, 0.70, 0.74, 0.77, 0.85, 1.195],
    [0.42, 0.43, 0.49, 0.53, 0.55, 0.58, 0.61, 0.63, 0.67, 0.70, 0.74, 0.80, 0.85, 0.89, 0.92, 1.27],
    [0.41, 0.52, 0.59, 0.65, 0.67, 0.71, 0.84, 0.88, 1.075, 1.195],
    [0.50, 0.61, 0.64, 0.71, 0.76, 0.92, 0.94, 1.02, 1.215],
    [0.53, 0.54, 0.66, 0.74, 0.78, 0.86, 0.94, 1.065, 1.07],
    [0.51, 0.70, 0.80, 0.84],
    [0.61],
    [0.67, 0.89],
    [0.58, 0.84],
    [0.56],
]
pts_g = [(x, y) for x, col in zip(g_cols, g_vals) for y in col]
fit_g_x = [0.64, 1.5, 2.5, 3.5, 5.0]
fit_g_y = [0.466, 0.54, 0.626, 0.712, 0.84]
ci_g = [0.02, 0.01, 0.008, 0.012, 0.03]

r2_labels = ["0.52", "0.34", "0.14", "0.86", "0.58", "0.16"]
tags = ["(a)", "(b)", "(c)", "(e)", "(f)", "(g)"]

# ---------------- drawing ----------------
W, H = 1178, 645
fig = plt.figure(figsize=(W / 100, H / 100), dpi=100)

YELLOW = (0.76, 0.62, 0.0, 0.62)
GREEN = (0.0, 0.53, 0.34, 0.64)
LABEL_COLOR = "#30353f"


def px_rect(left, right, top, bottom):
    return [left / W, 1 - bottom / H, (right - left) / W, (bottom - top) / H]


def add_stat(ax, r2, x0, y0):
    fp = dict(fontsize=12, fontweight='bold', color='black')
    parts = [
        TextArea("R", textprops=dict(fp, fontstyle='italic')),
        TextArea("²=" + r2 + "，", textprops=fp),
        TextArea("P", textprops=dict(fp, fontstyle='italic')),
        TextArea("<0.01", textprops=fp),
    ]
    box = HPacker(children=parts, align="baseline", pad=0, sep=0)
    anc = AnchoredOffsetbox(loc="upper left", child=box, pad=0.2, borderpad=0, frameon=True,
                            bbox_to_anchor=(x0, y0), bbox_transform=ax.transAxes)
    anc.patch.set_facecolor("white")
    anc.patch.set_edgecolor("none")
    ax.add_artist(anc)


def draw_panel(rect, pts, fx, fy, ci, color, xlim, ylim, xticks, xticklabels, yticks,
               xminor, yminor, xlabel, ylabel, r2, tag, bottom_row):
    ax = fig.add_axes(rect)
    df = pd.DataFrame(pts, columns=["x", "y"])
    sns.scatterplot(data=df, x="x", y="y", ax=ax, s=26, legend=False, zorder=3)
    pc = ax.collections[-1]
    pc.set_facecolor("none")
    pc.set_edgecolor(color)
    pc.set_linewidth(0.8)

    fit = pd.DataFrame({"x": fx, "y": fy, "ci": ci})
    ax.fill_between(fit["x"], fit["y"] - fit["ci"], fit["y"] + fit["ci"],
                    color="#b8b8b8", alpha=0.55, lw=0, zorder=4)
    sns.lineplot(data=fit, x="x", y="y", ax=ax, color="black", lw=1.7, zorder=5)

    ax.set_xlim(*xlim)
    ax.set_ylim(*ylim)
    ax.set_xticks(xticks)
    ax.set_xticklabels(xticklabels)
    ax.set_yticks(yticks)
    ax.set_yticklabels([f"{v:.1f}" for v in yticks])
    ax.xaxis.set_minor_locator(MultipleLocator(xminor))
    ax.yaxis.set_minor_locator(MultipleLocator(yminor))
    ax.grid(True, which="both", color="#ececec", lw=0.8, zorder=0)
    ax.set_axisbelow(True)
    ax.tick_params(which="both", length=0)
    ax.tick_params(axis="x", pad=1.5 if bottom_row else 5, labelsize=12, labelcolor="#111111")
    ax.tick_params(axis="y", pad=3, labelsize=12, labelcolor="#111111")
    for lab in ax.get_xticklabels() + ax.get_yticklabels():
        lab.set_fontweight("bold")
    if bottom_row:
        ax.get_yticklabels()[0].set_verticalalignment("bottom")
    for sp in ax.spines.values():
        sp.set_color("#9a9a9a")
        sp.set_linewidth(1.0)

    ax.set_xlabel(xlabel, fontsize=11.5, fontweight="bold", color=LABEL_COLOR,
                  labelpad=-1 if bottom_row else 4)
    ax.set_ylabel(ylabel, fontsize=11.5, fontweight="bold", color=LABEL_COLOR, labelpad=5)

    add_stat(ax, r2, 0.025, 0.965)
    ax.text(0.982, 0.045, tag, transform=ax.transAxes, ha="right", va="bottom",
            fontsize=13, fontweight="bold", color="#222222")
    return ax


top_yt = [1.0, 2.0, 3.0]
bot_yt = [0.3, 0.6, 0.9, 1.2, 1.5]

draw_panel(px_rect(62, 405, 12, 272), pts_a, fit_a_x, fit_a_y, ci_a, YELLOW,
           (0.19, 3.35), (0.52, 3.37), [1, 2, 3], ["1", "2", "3"], top_yt, 0.5, 0.25,
           "Dominant species stability", "Survival stability", r2_labels[0], tags[0], False)
draw_panel(px_rect(449, 798, 12, 272), pts_b, fit_b_x, fit_b_y, ci_b, YELLOW,
           (0.8972, 1.0045), (0.43, 3.38), [0.9, 0.95, 1.0], ["0.9", "0.95", "1"], top_yt, 0.0125, 0.5,
           "Species asynchrony", "", r2_labels[1], tags[1], False)
draw_panel(px_rect(839, 1175, 12, 272), pts_c, fit_c_x, fit_c_y, ci_c, YELLOW,
           (1.39, 14.58), (0.52, 3.37), [5, 10], ["5", "10"], top_yt, 2.5, 0.25,
           "Species richness (Total)", "", r2_labels[2], tags[2], False)
draw_panel(px_rect(62, 406, 344, 604), pts_e, fit_e_x, fit_e_y, ci_e, GREEN,
           (0.294, 1.287), (0.3, 1.517), [0.5, 0.75, 1.0, 1.25], ["0.5", "0.75", "1", "1.25"],
           bot_yt, 0.125, 0.15,
           "Dominant species stability", "Recruitment stability", r2_labels[3], tags[3], True)
draw_panel(px_rect(451, 805, 344, 604), pts_f, fit_f_x, fit_f_y, ci_f, GREEN,
           (-0.047, 0.974), (0.3, 1.517), [0, 0.25, 0.5, 0.75], ["0", "0.25", "0.5", "0.75"],
           bot_yt, 0.125, 0.15,
           "Species asynchrony", "", r2_labels[4], tags[4], True)
draw_panel(px_rect(840, 1175, 344, 604), pts_g, fit_g_x, fit_g_y, ci_g, GREEN,
           (0.41, 5.12), (0.3, 1.517), [1, 2, 3, 4, 5], ["1", "2", "3", "4", "5"],
           bot_yt, 0.5, 0.15,
           "Species richness (New)", "", r2_labels[5], tags[5], True)

fig.savefig("out.png", dpi=100)
